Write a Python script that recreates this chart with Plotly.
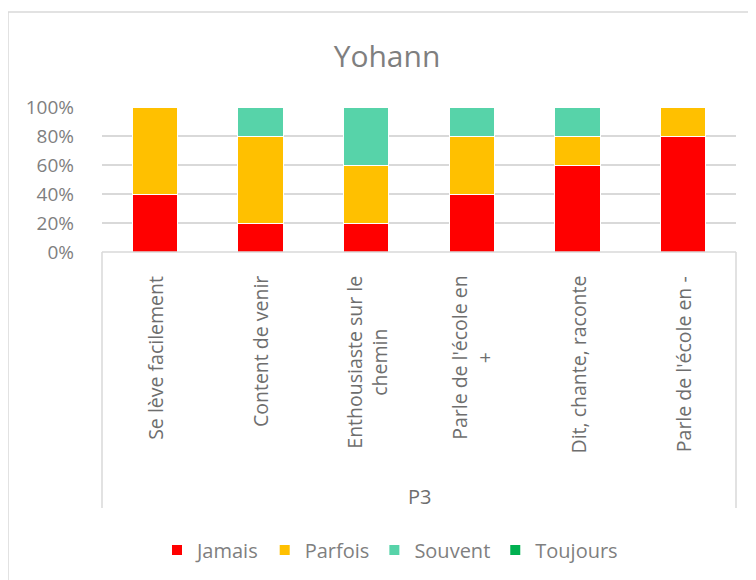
import plotly.graph_objects as go

categories = ["Se lève facilement", "Content de venir", "Enthousiaste sur le<br>chemin",
              "Parle de l'école en<br>+", "Dit, chante, raconte", "Parle de l'école en -"]
group_label = "P3"
series_names = ["Jamais", "Parfois", "Souvent", "Toujours"]
jamais = [0.4, 0.2, 0.2, 0.4, 0.6, 0.8]
parfois = [0.6, 0.6, 0.4, 0.4, 0.2, 0.2]
souvent = [0.0, 0.2, 0.4, 0.2, 0.2, 0.0]
toujours = [0.0, 0.0, 0.0, 0.0, 0.0, 0.0]
colors = ["#FF0000", "#FFC000", "#57D3A9", "#00B050"]
title_text = "Yohann"

FONT = "Open Sans"
GREY = "#7f7f7f"
OFF = 8  # page body margin
W, H = 756 - OFF, 580 - OFF
# target positions in screenshot coordinates
L, R, T, B = 102, 736, 107, 252
ph = B - T
pw = R - L

def py(y):
    return -(y - B) / ph

def px(x):
    return (x - L) / pw

idx = list(range(len(categories)))
fig = go.Figure()
for name, vals, col in zip(series_names, [jamais, parfois, souvent, toujours], colors):
    fig.add_trace(go.Bar(x=idx, y=vals, name=name, marker=dict(color=col, line=dict(color="white", width=1)),
                         hoverinfo="skip"))

annotations = []
for i, c in enumerate(categories):
    annotations.append(dict(x=i, xref="x", y=py(274), yref="paper", text=c, textangle=-90,
                            showarrow=False, yanchor="top", xanchor="center", align="center",
                            font=dict(family=FONT, size=19.5, color="#6e6e6e")))
annotations.append(dict(x=0.5, xref="paper", y=py(496), yref="paper", text=group_label,
                        showarrow=False, yanchor="middle", xanchor="center",
                        font=dict(family=FONT, size=20, color="#6e6e6e")))

shapes = [
    dict(type="line", xref="paper", yref="paper", x0=0, x1=1, y0=0, y1=0, line=dict(color="#d9d9d9", width=1.5)),
    dict(type="line", xref="paper", yref="paper", x0=0, x1=0, y0=0, y1=py(508), line=dict(color="#d9d9d9", width=1.5)),
    dict(type="line", xref="paper", yref="paper", x0=1, x1=1, y0=0, y1=py(508), line=dict(color="#d9d9d9", width=1.5)),
    dict(type="rect", xref="paper", yref="paper", x0=px(8), x1=px(800), y0=py(620), y1=py(12),
         line=dict(color="#d9d9d9", width=1.5)),
]

fig.update_layout(
    width=W, height=H,
    margin=dict(l=L - OFF, r=756 - R, t=T - OFF, b=580 - B),
    paper_bgcolor="white", plot_bgcolor="white",
    barmode="stack", bargap=0.57,
    title=dict(text=title_text, x=(387 - OFF) / W, xanchor="center", y=1 - (56 - OFF) / H, yanchor="middle",
               font=dict(family=FONT, size=30, color=GREY)),
    xaxis=dict(type="linear", range=[-0.5, len(categories) - 0.5], showticklabels=False,
               showgrid=False, zeroline=False, showline=False, fixedrange=True),
    yaxis=dict(range=[0, 1], dtick=0.2, tickformat=".0%", gridcolor="#d9d9d9", gridwidth=1.5,
               zeroline=False, showline=False, ticklabelstandoff=27,
               tickfont=dict(family=FONT, size=19, color=GREY)),
    legend=dict(orientation="h", xref="container", yref="container",
                x=(390 - OFF) / W, xanchor="center", y=1 - (550 - OFF) / H, yanchor="middle",
                font=dict(family=FONT, size=20, color=GREY), itemwidth=30, traceorder="normal",
                itemsizing="constant", tracegroupgap=0),
    annotations=annotations,
    shapes=shapes,
    showlegend=True,
)

fig.write_html("out.html")
